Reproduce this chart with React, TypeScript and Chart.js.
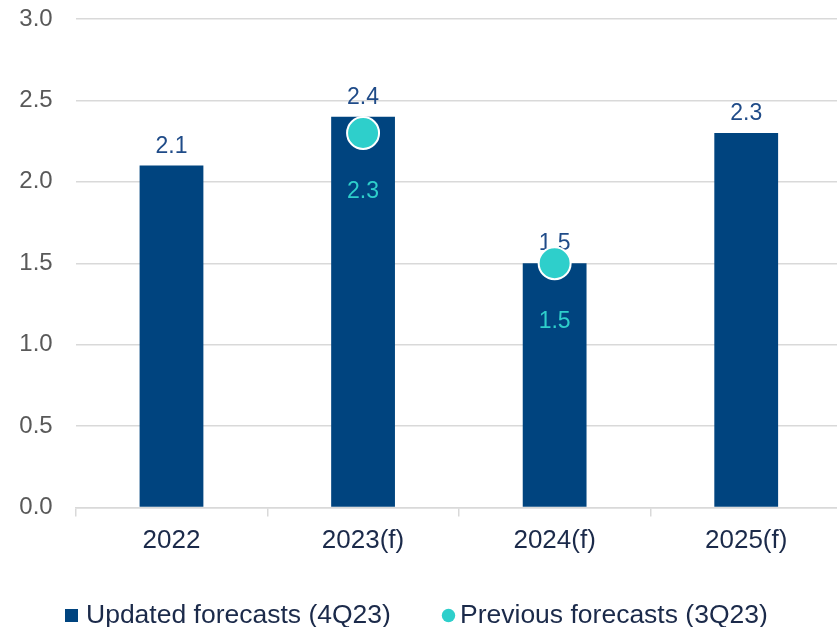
import React, { useEffect, useRef } from "react";
import { Chart, registerables } from "chart.js";

Chart.register(...registerables);

const categories = ["2022", "2023(f)", "2024(f)", "2025(f)"];
const updatedForecasts = [2.1, 2.4, 1.5, 2.3];
const previousForecasts: (number | null)[] = [null, 2.3, 1.5, null];
const yTicks = [0, 0.5, 1, 1.5, 2, 2.5, 3];
const seriesNames = ["Updated forecasts (4Q23)", "Previous forecasts (3Q23)"];

const FONT = '"Liberation Sans", Arial, sans-serif';
const BAR_COLOR = "#00447F";
const TEAL = "#2ECFCB";
const LABEL_NAVY = "#1F4B88";
const DARK_TEXT = "#1B2A4A";
const GRID = "#D9D9D9";

const W = 860;
const H = 627;

const labelPlugin = {
  id: "valueLabels",
  afterDatasetDraw(chart: any, args: any) {
    const ctx = chart.ctx;
    const ds = chart.data.datasets[args.index];
    const meta = args.meta;
    ctx.save();
    ctx.font = `23px ${FONT}`;
    ctx.textAlign = "center";
    ctx.textBaseline = "alphabetic";
    if (ds.type === "bar") {
      ctx.fillStyle = LABEL_NAVY;
      meta.data.forEach((el: any, i: number) => {
        const v = ds.data[i];
        if (v == null) return;
        ctx.fillText(Number(v).toFixed(1), el.x, el.y - 13);
      });
    } else {
      ctx.fillStyle = TEAL;
      meta.data.forEach((el: any, i: number) => {
        const v = ds.data[i];
        if (v == null || isNaN(el.y)) return;
        ctx.fillText(Number(v).toFixed(1), el.x, el.y + 65);
      });
    }
    ctx.restore();
  },
  afterDraw(chart: any) {
    const ctx = chart.ctx;
    ctx.save();
    ctx.font = `26.5px ${FONT}`;
    ctx.textAlign = "left";
    ctx.textBaseline = "alphabetic";
    ctx.fillStyle = BAR_COLOR;
    ctx.fillRect(65, 609, 13, 13);
    ctx.fillStyle = DARK_TEXT;
    ctx.fillText(seriesNames[0], 86, 622.5);
    ctx.fillStyle = TEAL;
    ctx.beginPath();
    ctx.arc(448.5, 615.5, 6.7, 0, Math.PI * 2);
    ctx.fill();
    ctx.fillStyle = DARK_TEXT;
    ctx.fillText(seriesNames[1], 460, 622.5);
    ctx.restore();
  },
};

export default function App() {
  const ref = useRef<HTMLCanvasElement | null>(null);

  useEffect(() => {
    document.body.style.margin = "0";
    const canvas = ref.current;
    if (!canvas) return;
    const chart = new Chart(canvas, {
      type: "bar",
      data: {
        labels: categories,
        datasets: [
          {
            type: "bar",
            label: seriesNames[0],
            data: updatedForecasts,
            backgroundColor: BAR_COLOR,
            borderWidth: 0,
            categoryPercentage: 1,
            barPercentage: 0.333,
            order: 2,
          } as any,
          {
            type: "line",
            label: seriesNames[1],
            data: previousForecasts,
            showLine: false,
            pointRadius: 16,
            pointHoverRadius: 16,
            pointBorderWidth: 2,
            pointBorderColor: "#FFFFFF",
            pointBackgroundColor: TEAL,
            backgroundColor: TEAL,
            borderColor: TEAL,
            order: 1,
          } as any,
        ],
      },
      options: {
        responsive: false,
        animation: false,
        layout: { padding: { top: 19, right: 0, left: 0, bottom: 0 } },
        plugins: {
          legend: { display: false },
          tooltip: { enabled: false },
        },
        scales: {
          x: {
            offset: true,
            grid: {
              offset: true,
              drawOnChartArea: false,
              drawTicks: true,
              tickLength: 9,
              color: GRID,
              lineWidth: 1.5,
            },
            border: { display: true, color: GRID, width: 1.5 },
            ticks: {
              color: DARK_TEXT,
              font: { family: FONT, size: 26 },
              padding: 9,
              maxRotation: 0,
            },
            afterFit: (scale: any) => {
              scale.height = H - 507.5;
              scale.paddingLeft = 0;
              scale.paddingRight = 0;
            },
          },
          y: {
            min: 0,
            max: 3,
            afterBuildTicks: (scale: any) => {
              scale.ticks = yTicks.map((v) => ({ value: v }));
            },
            grid: { drawTicks: false, color: GRID, lineWidth: 1.5 },
            border: { display: false },
            ticks: {
              color: "#595959",
              font: { family: FONT, size: 24 },
              padding: 23,
              callback: (v: any) => Number(v).toFixed(1),
            },
            afterFit: (scale: any) => {
              scale.width = 75.7;
              scale.paddingTop = 0;
              scale.paddingBottom = 0;
            },
          },
        },
      },
      plugins: [labelPlugin],
    });
    return () => chart.destroy();
  }, []);

  return (
    <div style={{ position: "fixed", left: 0, top: 0, width: 837, height: 627, overflow: "hidden", background: "#fff" }}>
      <canvas ref={ref} width={W} height={H} style={{ width: W, height: H, display: "block" }} />
    </div>
  );
}
